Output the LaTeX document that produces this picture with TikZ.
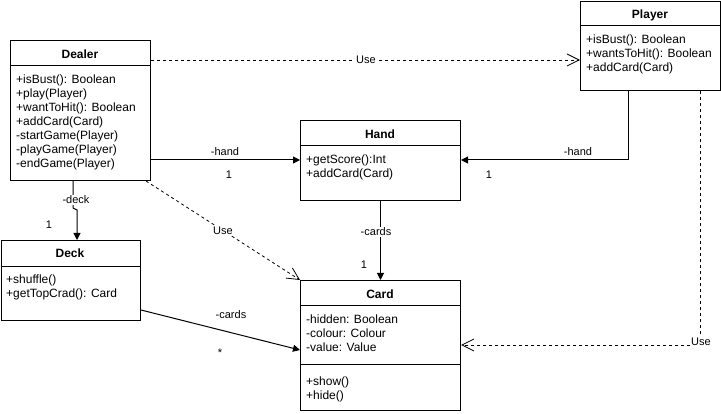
\documentclass[tikz,border=0pt]{standalone}
\usepackage{fontspec}
\setmainfont{Liberation Sans}
\usetikzlibrary{arrows.meta}

\tikzset{
  classbox/.style={draw, line width=1pt, rectangle, inner sep=0pt, anchor=north west, fill=white},
  classtitle/.style={font=\fontsize{12}{14}\selectfont\bfseries, inner sep=0pt, anchor=base},
  % members are placed by the baseline of their last line
  members/.style={font=\fontsize{12}{14}\selectfont, align=left, anchor=base west, inner sep=0pt},
  divider/.style={line width=1pt},
  assoc/.style={line width=1pt, -{Triangle[length=7pt,width=7pt]}},
  dep/.style={line width=0.8pt, dash pattern=on 3pt off 3pt, -{Straight Barb[length=12pt,width=12pt,line width=0.8pt]}},
  lbl/.style={font=\fontsize{11}{13}\selectfont, inner sep=1pt},
}

\begin{document}
\begin{tikzpicture}[x=1pt, y=-1pt]
\useasboundingbox (0,0) rectangle (721,414);

% class boxes
\node[classbox, minimum width=140pt, minimum height=140pt] (dealer) at (10,40) {};
\node[classbox, minimum width=140pt, minimum height=89pt] (player) at (580,1) {};
\node[classbox, minimum width=160pt, minimum height=80pt] (hand) at (300,120) {};
\node[classbox, minimum width=160pt, minimum height=130pt] (card) at (300,280) {};
\node[classbox, minimum width=139.5pt, minimum height=80pt] (deck) at (0.5,240) {};

% compartment dividers
\draw[divider] ([yshift=-26pt]dealer.north west) -- ([yshift=-26pt]dealer.north east);
\draw[divider] ([yshift=-25pt]player.north west) -- ([yshift=-25pt]player.north east);
\draw[divider] ([yshift=-26pt]hand.north west) -- ([yshift=-26pt]hand.north east);
\draw[divider] ([yshift=-26pt]card.north west) -- ([yshift=-26pt]card.north east);
\draw[divider] ([yshift=-85pt]card.north west) -- ([yshift=-85pt]card.north east);
\draw[divider] ([yshift=-27pt]deck.north west) -- ([yshift=-27pt]deck.north east);

% class names
\node[classtitle] (dealerName) at (80,58.3) {Dealer};
\node[classtitle] (playerName) at (650,18.3) {Player};
\node[classtitle] (handName) at (380,138.3) {Hand};
\node[classtitle] (cardName) at (380,298.3) {Card};
\node[classtitle] (deckName) at (70,257.3) {Deck};

% members
\node[members] (dealerOps) at (16,168) {+isBust(): Boolean\\+play(Player)\\+wantToHit(): Boolean\\+addCard(Card)\\-startGame(Player)\\-playGame(Player)\\-endGame(Player)};
\node[members] (playerOps) at (586,72) {+isBust(): Boolean\\+wantsToHit(): Boolean\\+addCard(Card)};
\node[members] (handOps) at (306,178) {+getScore():Int\\+addCard(Card)};
\node[members] (cardAttrs) at (306,352) {-hidden: Boolean\\-colour: Colour\\-value: Value};
\node[members] (cardOps) at (306,399.5) {+show()\\+hide()};
\node[members] (deckOps) at (6,297.5) {+shuffle()\\+getTopCrad(): Card};

% dependencies
\draw[dep] ([yshift=-20pt]dealer.north east) -- ([yshift=-59pt]player.north west);
\node[lbl, fill=white] (usePlayer) at (366,60) {Use};

\draw[dep] ([xshift=-5pt]dealer.south east) -- (card.north west);
\node[lbl, fill=white] (useCard) at (223,231) {Use};

\coordinate (playerDep) at ([xshift=120pt]player.south west);
\draw[dep] (playerDep) |- ([yshift=-65pt]card.north east);
\node[lbl, fill=white] (playerUseCard) at (701,342) {Use};

% associations
\draw[assoc] ([yshift=-120pt]dealer.north east) -- ([yshift=-40pt]hand.north west);
\node[lbl] (dealerHand) at (225,151.5) {-hand};
\node[lbl] (dealerHandMult) at (229,175) {1};

\draw[assoc] ([xshift=48pt]player.south west) |- ([yshift=-40pt]hand.north east);
\node[lbl] (playerHand) at (578,151.5) {-hand};
\node[lbl] (playerHandMult) at (489,175) {1};

\draw[assoc] ([xshift=63pt]dealer.south west) -- ++(0,27) -- ++(4,2) -- ([xshift=76.5pt]deck.north west);
\node[lbl, fill=white] (dealerDeck) at (76,200) {-deck};
\node[lbl] (dealerDeckMult) at (49,225) {1};

\draw[assoc] (hand.south) -- (card.north);
\node[lbl, fill=white] (handCard) at (376,232) {-cards};
\node[lbl] (handCardMult) at (364,265) {1};

\draw[assoc] ([yshift=-70pt]deck.north east) -- ([yshift=-70pt]card.north west);
\node[lbl] (deckCard) at (231,315) {-cards};
\node[lbl] (deckCardMult) at (220,353) {*};
\end{tikzpicture}
\end{document}
